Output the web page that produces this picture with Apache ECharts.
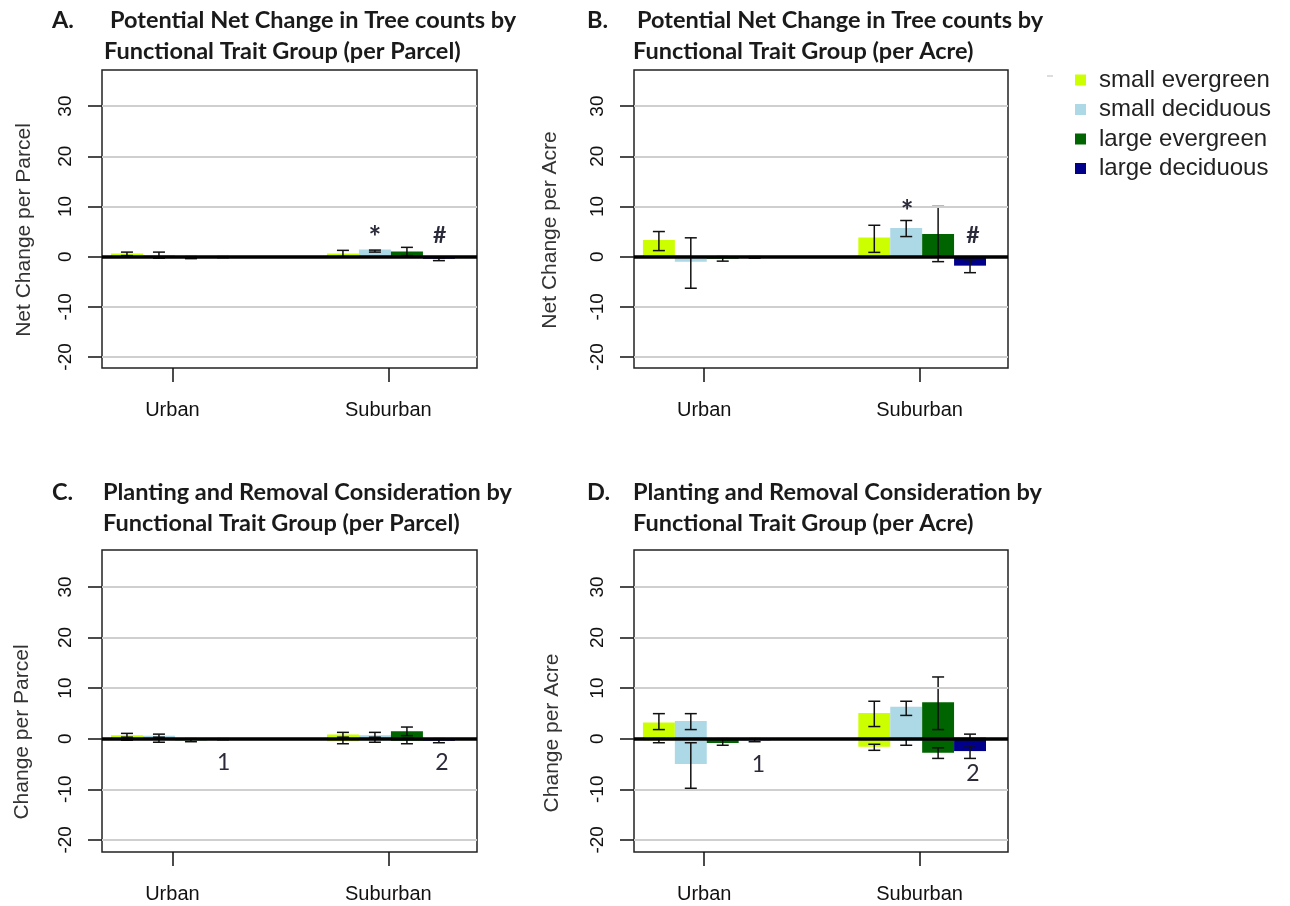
<!DOCTYPE html>
<html>
<head>
<meta charset="utf-8">
<script src="https://cdn.jsdelivr.net/npm/echarts@6.0.0/dist/echarts.min.js"></script>
<style>html,body{margin:0;background:#fff}#main{width:1290px;height:906px}</style>
</head>
<body>
<div id="main"></div>
<script>
var groups = ['Urban', 'Suburban'];
var traits = ['small evergreen', 'small deciduous', 'large evergreen', 'large deciduous'];
var colors = ['#ccff00', '#add8e6', '#006400', '#00008b'];
var yTicks = [-20, -10, 0, 10, 20, 30];
var gridVals = [-20, -10, 10, 20, 30];

// every array: Urban (4 traits) then Suburban (4 traits)
// A. net change per parcel
var netParcelMean = [0.6, 0.3, -0.2, -0.1, 0.6, 1.4, 1.0, -0.4];
var netParcelLo   = [0.2, -0.3, -0.4, -0.2, 0.0, 0.9, 0.2, -0.8];
var netParcelHi   = [0.9, 0.9, 0.0, 0.0, 1.25, 1.3, 1.85, -0.2];
// B. net change per acre
var netAcreMean = [3.3, -1.0, -0.4, -0.1, 3.8, 5.7, 4.5, -1.8];
var netAcreLo   = [1.2, -6.3, -0.9, -0.3, 0.85, 4.0, -1.0, -3.2];
var netAcreHi   = [5.0, 3.75, 0.0, 0.0, 6.25, 7.2, 10.0, -0.6];
// C. planting / removal per parcel
var plantParcelMean  = [0.7, 0.6, 0.0, 0.0, 0.85, 0.7, 1.45, 0.0];
var plantParcelLo    = [0.3, 0.3, 0.0, 0.0, 0.3, 0.3, 0.6, 0.0];
var plantParcelHi    = [1.05, 0.9, 0.0, 0.0, 1.25, 1.25, 2.3, 0.0];
var removeParcelMean = [-0.1, -0.2, -0.3, -0.1, -0.5, -0.3, -0.4, -0.4];
var removeParcelLo   = [-0.3, -0.7, -0.6, -0.2, -1.0, -0.7, -1.0, -0.8];
var removeParcelHi   = [0.0, 0.0, 0.0, 0.0, 0.0, 0.0, 0.0, 0.0];
// D. planting / removal per acre
var plantAcreMean  = [3.2, 3.5, 0.0, 0.0, 5.1, 6.3, 7.2, 0.2];
var plantAcreLo    = [1.8, 1.8, 0.0, 0.0, 2.4, 4.6, 1.8, 0.0];
var plantAcreHi    = [4.95, 4.95, 0.0, 0.0, 7.4, 7.4, 12.2, 0.9];
var removeAcreMean = [-0.3, -5.0, -0.85, -0.3, -1.6, -0.45, -2.8, -2.45];
var removeAcreLo   = [-0.8, -9.8, -1.3, -0.6, -2.3, -1.3, -3.9, -3.9];
var removeAcreHi   = [0.0, -0.8, 0.0, 0.0, -1.1, 0.0, -1.8, -1.4];

// significance marks [x, y, text]
var notesA = [[8.53, 3.6, '*'], [10.55, 4.2, '#']];
var notesB = [[8.56, 8.8, '*'], [10.62, 4.2, '#']];
var notesC = [[3.8, -4.7, '1'], [10.62, -4.7, '2']];
var notesD = [[3.9, -5.2, '1'], [10.62, -6.8, '2']];

var groupStart = [0.28, 7.03];
var xTicks = [2.2, 8.95];
var xMax = 11.72;
var labelFont = 'Liberation Sans, Arial, sans-serif';
var titleFont = 'Lato, Carlito, sans-serif';

var panels = [
  {grid: {left: 102, top: 70, width: 375, height: 298}, yMin: -22.2, yMax: 37.2,
   letter: 'A.', l1: 'Potential Net Change in Tree counts by', l2: 'Functional Trait Group (per Parcel)',
   lx: 52, l1x: 110, l2x: 104, ty: 20, yName: 'Net Change per Parcel', nx: 24, ny: 230,
   sets: [[netParcelMean, netParcelLo, netParcelHi]], notes: notesA, noteBold: true},
  {grid: {left: 634, top: 70, width: 374, height: 298}, yMin: -22.2, yMax: 37.2,
   letter: 'B.', l1: 'Potential Net Change in Tree counts by', l2: 'Functional Trait Group (per Acre)',
   lx: 587, l1x: 637, l2x: 633, ty: 20, yName: 'Net Change per Acre', nx: 550, ny: 230,
   sets: [[netAcreMean, netAcreLo, netAcreHi]], notes: notesB, noteBold: true},
  {grid: {left: 102, top: 550, width: 375, height: 302}, yMin: -22.4, yMax: 37.3,
   letter: 'C.', l1: 'Planting and Removal Consideration by', l2: 'Functional Trait Group (per Parcel)',
   lx: 52, l1x: 103, l2x: 103, ty: 492, yName: 'Change per Parcel', nx: 22, ny: 732,
   sets: [[plantParcelMean, plantParcelLo, plantParcelHi], [removeParcelMean, removeParcelLo, removeParcelHi]],
   notes: notesC, noteBold: false},
  {grid: {left: 634, top: 550, width: 374, height: 302}, yMin: -22.4, yMax: 37.3,
   letter: 'D.', l1: 'Planting and Removal Consideration by', l2: 'Functional Trait Group (per Acre)',
   lx: 587, l1x: 633, l2x: 633, ty: 492, yName: 'Change per Acre', nx: 552, ny: 733,
   sets: [[plantAcreMean, plantAcreLo, plantAcreHi], [removeAcreMean, removeAcreLo, removeAcreHi]],
   notes: notesD, noteBold: false}
];

function xOf(j) {
  return groupStart[Math.floor(j / 4)] + (j % 4) + 0.5;
}

function barRender(params, api) {
  var x = api.value(0), v = api.value(1);
  var p0 = api.coord([x - 0.5, 0]);
  var p1 = api.coord([x + 0.5, v]);
  return {
    type: 'rect',
    shape: {x: p0[0], y: Math.min(p0[1], p1[1]), width: p1[0] - p0[0], height: Math.abs(p1[1] - p0[1])},
    style: {fill: api.visual('color')}
  };
}

function errRender(params, api) {
  var x = api.value(0);
  var lo = api.coord([x, api.value(1)]);
  var hi = api.coord([x, api.value(2)]);
  var c = 6, st = {stroke: '#111', lineWidth: 1.5};
  return {
    type: 'group',
    children: [
      {type: 'line', shape: {x1: lo[0], y1: lo[1], x2: hi[0], y2: hi[1]}, style: st},
      {type: 'line', shape: {x1: lo[0] - c, y1: lo[1], x2: lo[0] + c, y2: lo[1]}, style: st},
      {type: 'line', shape: {x1: hi[0] - c, y1: hi[1], x2: hi[0] + c, y2: hi[1]}, style: st}
    ]
  };
}

var grids = [], xAxes = [], yAxes = [], series = [], graphics = [];

panels.forEach(function (p, k) {
  grids.push(Object.assign({show: true, borderColor: '#222', borderWidth: 1.5, backgroundColor: '#fff'}, p.grid));
  xAxes.push({
    type: 'value', gridIndex: k, min: 0, max: xMax,
    axisLine: {show: false, onZero: false}, splitLine: {show: false},
    axisTick: {show: true, customValues: xTicks, length: 14, lineStyle: {color: '#111', width: 1.5}},
    axisLabel: {
      customValues: xTicks, margin: 32, fontSize: 20, fontFamily: labelFont, color: '#111',
      formatter: function (v) { return groups[xTicks.indexOf(v)]; }
    }
  });
  yAxes.push({
    type: 'value', gridIndex: k, min: p.yMin, max: p.yMax,
    axisLine: {show: false, onZero: false}, splitLine: {show: false},
    axisTick: {show: true, customValues: yTicks, length: 14, lineStyle: {color: '#111', width: 1.5}},
    axisLabel: {customValues: yTicks, rotate: 90, margin: 27, fontSize: 19, fontFamily: labelFont, color: '#111'}
  });

  // grid lines
  series.push({
    type: 'line', xAxisIndex: k, yAxisIndex: k, data: [], z: 1, silent: true,
    markLine: {
      silent: true, symbol: 'none', label: {show: false}, animation: false,
      lineStyle: {type: 'solid', color: '#cfcfcf', width: 2},
      data: gridVals.map(function (v) { return {yAxis: v}; })
    }
  });

  traits.forEach(function (name, t) {
    var data = [];
    p.sets.forEach(function (s) {
      [t, t + 4].forEach(function (j) { data.push([xOf(j), s[0][j]]); });
    });
    series.push({
      type: 'custom', name: name, xAxisIndex: k, yAxisIndex: k, z: 2,
      itemStyle: {color: colors[t]}, renderItem: barRender, data: data, silent: true
    });
  });

  // zero line
  series.push({
    type: 'line', xAxisIndex: k, yAxisIndex: k, data: [], z: 3, silent: true,
    markLine: {
      silent: true, symbol: 'none', label: {show: false}, animation: false,
      lineStyle: {type: 'solid', color: '#000', width: 3.5},
      data: [{yAxis: 0}]
    }
  });

  var errData = [];
  p.sets.forEach(function (s) {
    for (var j = 0; j < 8; j++) {
      if (s[1][j] !== s[2][j]) errData.push([xOf(j), s[1][j], s[2][j]]);
    }
  });
  series.push({
    type: 'custom', xAxisIndex: k, yAxisIndex: k, z: 4, silent: true,
    renderItem: errRender, data: errData
  });

  series.push({
    type: 'custom', xAxisIndex: k, yAxisIndex: k, z: 5, silent: true,
    data: p.notes,
    renderItem: function (params, api) {
      var pt = api.coord([api.value(0), api.value(1)]);
      var txt = p.notes[params.dataIndex][2];
      return {
        type: 'text', x: pt[0], y: pt[1],
        style: {
          text: txt, align: 'center', verticalAlign: 'middle',
          fontSize: txt === '*' ? 30 : 23, fontWeight: p.noteBold ? 'bold' : 'normal',
          fontFamily: titleFont, fill: '#2a2a3a'
        }
      };
    }
  });

  var tStyle = {fontSize: 23.5, fontWeight: 'bold', fontFamily: titleFont, fill: '#1a1a1a', verticalAlign: 'middle'};
  graphics.push({type: 'text', x: p.lx, y: p.ty, style: Object.assign({text: p.letter}, tStyle)});
  graphics.push({type: 'text', x: p.l1x, y: p.ty, style: Object.assign({text: p.l1}, tStyle)});
  graphics.push({type: 'text', x: p.l2x, y: p.ty + 31, style: Object.assign({text: p.l2}, tStyle)});
  graphics.push({
    type: 'text', x: p.nx, y: p.ny, rotation: Math.PI / 2,
    style: {text: p.yName, align: 'center', verticalAlign: 'middle', fontSize: 21, fontFamily: labelFont, fill: '#333'}
  });
});

graphics.push({type: 'line', shape: {x1: 1047, y1: 76, x2: 1053, y2: 76}, style: {stroke: '#bbb', lineWidth: 1}});

var myChart = echarts.init(document.getElementById('main'));
myChart.setOption({
  animation: false,
  backgroundColor: '#fff',
  grid: grids,
  xAxis: xAxes,
  yAxis: yAxes,
  legend: {
    data: traits, orient: 'vertical', left: 1070, top: 63,
    icon: 'rect', itemWidth: 11, itemHeight: 11, itemGap: 5.5,
    textStyle: {fontSize: 24, lineHeight: 22, fontFamily: labelFont, color: '#222', padding: [0, 0, 0, 8]}
  },
  graphic: graphics,
  series: series
});
</script>
</body>
</html>
